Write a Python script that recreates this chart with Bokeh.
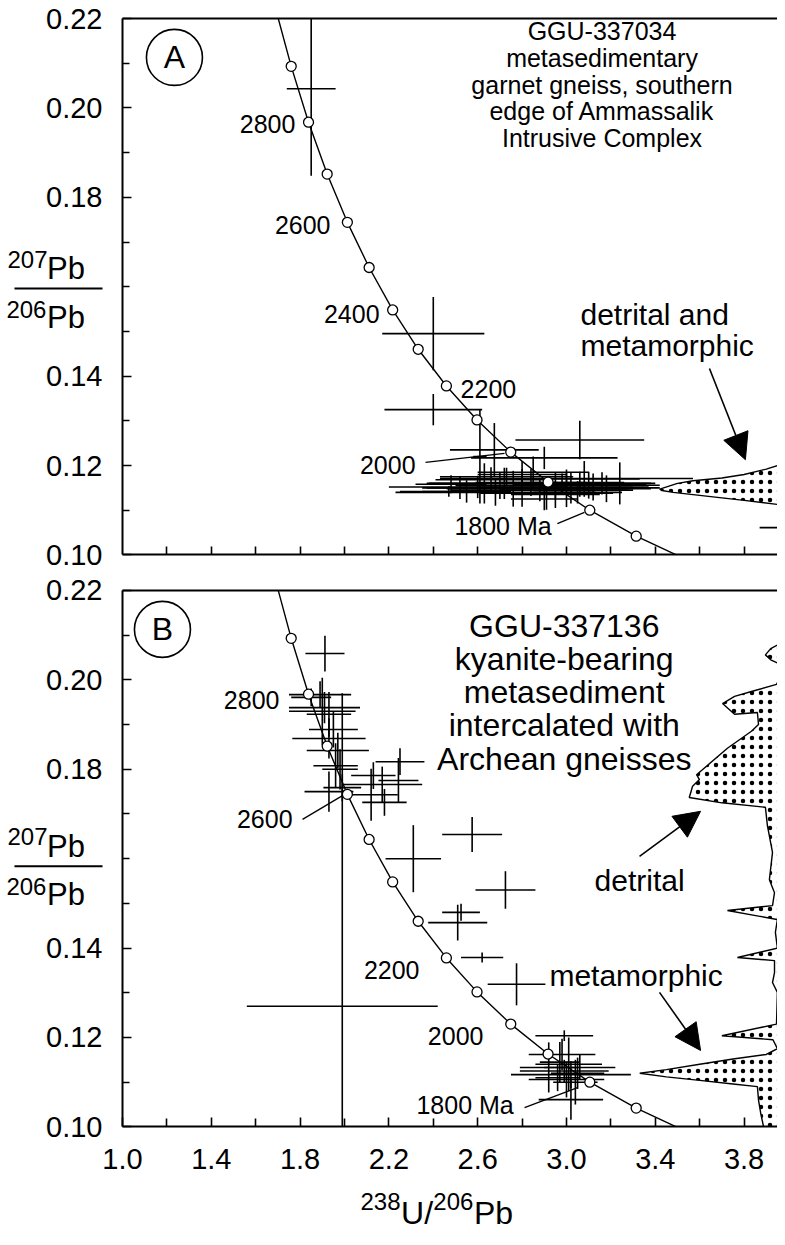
from bokeh.plotting import figure
from bokeh.models import (Label, Arrow, NormalHead, LinearAxis, FixedTicker,
                          NumeralTickFormatter, ColumnDataSource)
from bokeh.layouts import column
from bokeh.embed import file_html
from bokeh.resources import INLINE

FONT = "Liberation Sans"

# ---------------- data ----------------
x_ticks = [1.0, 1.4, 1.8, 2.2, 2.6, 3.0, 3.4, 3.8]
x_minor = [1.2, 1.6, 2.0, 2.4, 2.8, 3.2, 3.6]
y_ticks = [0.10, 0.12, 0.14, 0.18, 0.20, 0.22]
y_minor = [0.11, 0.13, 0.15, 0.16, 0.17, 0.19, 0.21]

# concordia reference points (Ma)
conc_age = [1600, 1700, 1800, 1900, 2000, 2100, 2200, 2300, 2400, 2500, 2600, 2700, 2800, 2900, 3000]
conc_x = [3.550, 3.314, 3.105, 2.917, 2.749, 2.597, 2.459, 2.332, 2.217, 2.111, 2.013, 1.922, 1.838, 1.760, 1.687]
conc_y = [0.0987, 0.1042, 0.1100, 0.1163, 0.1230, 0.1302, 0.1378, 0.1460, 0.1548, 0.1643, 0.1744, 0.1852, 0.1968, 0.2093, 0.2227]
marker_ages = [1700, 1800, 1900, 2000, 2100, 2200, 2300, 2400, 2500, 2600, 2700, 2800, 2900]

# Panel A: GGU-337034 analyses (238U/206Pb, 207Pb/206Pb, errors)
a_x = [1.85, 2.40, 2.40, 2.61, 3.06, 2.675, 2.90,
       2.60, 2.68, 2.72, 2.76, 2.80, 2.84, 2.88, 2.91, 2.95, 2.98, 3.02, 3.06, 3.10, 3.12,
       3.16, 3.24, 3.00, 2.55, 2.47, 2.52, 2.66, 2.73, 2.80, 2.85, 3.08, 2.95, 3.00, 2.63,
       2.70, 3.05, 3.18, 2.48, 2.90, 4.20]
a_y = [0.2043, 0.1495, 0.1325, 0.1220, 0.1257, 0.1235, 0.1217,
       0.1152, 0.1140, 0.1160, 0.1148, 0.1150, 0.1162, 0.1145, 0.1138, 0.1155, 0.1162, 0.1150, 0.1158, 0.1156, 0.1152,
       0.1160, 0.1160, 0.1171, 0.1142, 0.1142, 0.1150, 0.1168, 0.1175, 0.1180, 0.1185, 0.1170, 0.1135, 0.1145, 0.1160,
       0.1155, 0.1140, 0.1148, 0.1158, 0.1125, 0.1061]
a_xerr = [0.11, 0.23, 0.22, 0.03, 0.29, 0.20, 0.33,
          0.40, 0.45, 0.35, 0.30, 0.45, 0.25, 0.40, 0.30, 0.35, 0.28, 0.40, 0.30, 0.32, 0.25,
          0.22, 0.16, 0.57, 0.20, 0.22, 0.15, 0.25, 0.30, 0.20, 0.25, 0.25, 0.20, 0.30, 0.25,
          0.20, 0.20, 0.20, 0.16, 0.15, 0.33]
a_yerr = [0.0195, 0.0082, 0.0035, 0.0105, 0.0043, 0.0060, 0.0025,
          0.0025, 0.0030, 0.0035, 0.0040, 0.0042, 0.0030, 0.0025, 0.0037, 0.0030, 0.0020, 0.0035, 0.0028, 0.0030, 0.0030,
          0.0025, 0.0047, 0.0020, 0.0025, 0.0012, 0.0025, 0.0028, 0.0020, 0.0030, 0.0035, 0.0040, 0.0030, 0.0038, 0.0045,
          0.0030, 0.0025, 0.0030, 0.0020, 0.0025, 0.0020]

# Panel A probability density (detrital + metamorphic)
a_dens_x = [3.42, 3.50, 3.57, 3.70, 3.80, 3.90, 3.95, 4.05, 4.05, 3.95, 3.80, 3.57, 3.48, 3.43]
a_dens_y = [0.1147, 0.1160, 0.1166, 0.1172, 0.1180, 0.1192, 0.1200, 0.1212, 0.1108, 0.1113, 0.1122, 0.1135, 0.1140, 0.1144]

# Panel B: GGU-337136 analyses
b_x = [1.912, 1.90, 1.89, 1.85, 1.91, 1.93, 1.95, 1.93, 1.97, 1.96, 1.98, 1.99, 1.93, 1.99,
       2.13, 2.17, 2.12, 2.18, 2.243, 2.25,
       2.575, 2.31, 2.725, 2.525, 2.51, 2.62, 2.775,
       2.99, 2.98, 2.92, 3.01, 3.02, 3.02, 3.00, 2.99, 3.05, 2.96, 3.06, 2.97, 3.04]
b_y = [0.2059, 0.1930, 0.1967, 0.1961, 0.1938, 0.1923, 0.1889, 0.1869, 0.1842, 0.1808, 0.1800, 0.1759, 0.1750, 0.1270,
       0.1786, 0.1766, 0.1743, 0.1726, 0.1775, 0.1817,
       0.1654, 0.1600, 0.1530, 0.1480, 0.1457, 0.1379, 0.1319,
       0.1204, 0.1162, 0.1133, 0.1140, 0.1061, 0.1117, 0.1106, 0.1125, 0.1120, 0.1110, 0.1133, 0.1145, 0.1100]
b_xerr = [0.088, 0.15, 0.14, 0.09, 0.16, 0.10, 0.11, 0.165, 0.14, 0.10, 0.08, 0.085, 0.11, 0.43,
          0.10, 0.18, 0.12, 0.10, 0.09, 0.11,
          0.135, 0.125, 0.135, 0.085, 0.133, 0.095, 0.13,
          0.13, 0.15, 0.13, 0.15, 0.145, 0.27, 0.17, 0.20, 0.12, 0.10, 0.16, 0.09, 0.10]
b_yerr = [0.0040, 0.0075, 0.0030, 0.0020, 0.0035, 0.0050, 0.0040, 0.0045, 0.0040, 0.0050, 0.0045, 0.0030, 0.0045, 0.0700,
          0.0030, 0.0040, 0.0058, 0.0030, 0.0050, 0.0030,
          0.0039, 0.0075, 0.0042, 0.0019, 0.0040, 0.0011, 0.0047,
          0.0012, 0.0035, 0.0056, 0.0060, 0.0045, 0.0030, 0.0040, 0.0025, 0.0035, 0.0030, 0.0028, 0.0045, 0.0050]

# Panel B probability density (main outline and small upper lobe)
b_dens_x = [4.05, 3.968, 3.946, 3.833, 3.757, 3.703, 3.757, 3.860, 3.865, 3.833, 3.725, 3.586, 3.599, 3.568,
            3.553, 3.70, 3.896, 3.905, 3.928, 3.914, 3.937, 3.928, 3.725, 3.95, 3.941, 3.95, 3.77, 3.937,
            3.937, 3.928, 3.95, 3.946, 3.70, 3.93, 3.95, 3.90, 3.75, 3.60, 3.45, 3.33, 3.45, 3.60, 3.75,
            3.86, 3.865, 3.875, 3.89, 4.05]
b_dens_y = [0.2015, 0.2010, 0.1990, 0.1974, 0.1963, 0.1947, 0.1923, 0.1927, 0.1900, 0.1885, 0.1847, 0.1788, 0.1777, 0.1762,
            0.1737, 0.1725, 0.1715, 0.1674, 0.1614, 0.1553, 0.1524, 0.1495, 0.1484, 0.1464, 0.1435, 0.1400, 0.1379, 0.1372,
            0.1345, 0.1323, 0.1301, 0.1230, 0.1204, 0.1195, 0.1175, 0.1162, 0.1152, 0.1140, 0.1128, 0.1120, 0.1112, 0.1104, 0.1096,
            0.1090, 0.1060, 0.1030, 0.0995, 0.0995]
b_lobe_x = [3.896, 3.92, 3.95, 3.99, 4.02, 3.99, 3.95, 3.92]
b_lobe_y = [0.2056, 0.2070, 0.2078, 0.2078, 0.2060, 0.2040, 0.2038, 0.2045]

# ---------------- layout constants ----------------
X_LEFT, X_RIGHT = 0.4505, 3.9505      # frame spans the whole width; y axis sits at x = 1.0
Y_TOP, Y_AXIS = 0.22, 0.10
# frames extend a little past the axes so that tick labels / titles are not clipped
A_RANGE = (0.09629, 0.22403)
B_RANGE = (0.07615, 0.22425)


def text(p, x, y, s, size, align="left", baseline="middle"):
    p.add_layout(Label(x=x, y=y, text=s, text_font=FONT, text_font_size=size,
                       text_align=align, text_baseline=baseline, text_color="black"))


def style_axis(ax):
    ax.axis_line_width = 2
    ax.axis_line_color = "black"
    ax.major_tick_in = 9
    ax.major_tick_out = 0
    ax.minor_tick_in = 7
    ax.minor_tick_out = 0
    ax.major_tick_line_width = 1.6
    ax.minor_tick_line_width = 1.6
    ax.major_tick_line_color = "black"
    ax.minor_tick_line_color = "black"
    ax.major_label_text_font = FONT
    ax.major_label_text_color = "black"
    ax.major_label_text_font_size = "29px"
    ax.major_label_standoff = 22


def make_panel(cx, cy, cxe, cye, dens, letter, last):
    yr = B_RANGE if last else A_RANGE
    fh = 662 if last else 571
    p = figure(frame_width=777, frame_height=fh, x_range=(X_LEFT, X_RIGHT), y_range=yr,
               output_backend="svg", toolbar_location=None,
               min_border_left=0, min_border_right=0, min_border_top=0, min_border_bottom=0,
               x_axis_type=None, y_axis_type=None)
    p.outline_line_color = None
    p.background_fill_color = "white"
    p.border_fill_color = "white"

    yax = LinearAxis(ticker=FixedTicker(ticks=y_ticks, minor_ticks=y_minor),
                     formatter=NumeralTickFormatter(format="0.00"),
                     fixed_location=1.0, bounds=(Y_AXIS, Y_TOP))
    style_axis(yax)
    yax.major_label_standoff = 20
    p.add_layout(yax, "left")

    if last:
        xax = LinearAxis(ticker=FixedTicker(ticks=x_ticks, minor_ticks=x_minor),
                         formatter=NumeralTickFormatter(format="0.0"),
                         fixed_location=Y_AXIS, bounds=(1.0, X_RIGHT))
    else:
        xax = LinearAxis(ticker=FixedTicker(ticks=[], minor_ticks=x_ticks[1:] + x_minor),
                         fixed_location=Y_AXIS, bounds=(1.0, X_RIGHT))
    style_axis(xax)
    xax.minor_tick_in = 8
    p.add_layout(xax, "below")
    top = LinearAxis(ticker=FixedTicker(ticks=[]), fixed_location=Y_TOP, bounds=(1.0, X_RIGHT))
    style_axis(top)
    p.add_layout(top, "above")

    for dx, dy in dens:
        p.patch(dx, dy, fill_color="white", line_color="black", line_width=1.4,
                hatch_pattern="dot", hatch_color="black", hatch_scale=9, hatch_weight=1.8)

    src = ColumnDataSource(dict(
        x=cx, y=cy,
        x0=[a - e for a, e in zip(cx, cxe)], x1=[a + e for a, e in zip(cx, cxe)],
        y0=[a - e for a, e in zip(cy, cye)], y1=[a + e for a, e in zip(cy, cye)]))
    p.segment("x0", "y", "x1", "y", source=src, line_color="black", line_width=1.6)
    p.segment("x", "y0", "x", "y1", source=src, line_color="black", line_width=1.6)

    p.line(conc_x, conc_y, line_color="black", line_width=1.4)
    mx = [x for a, x in zip(conc_age, conc_x) if a in marker_ages]
    my = [y for a, y in zip(conc_age, conc_y) if a in marker_ages]
    p.scatter(mx, my, size=10, fill_color="white", line_color="black", line_width=1.3)

    # blank out whatever falls outside the axes box (above the top / below the bottom axis)
    p.quad(left=[X_LEFT, X_LEFT], right=[X_RIGHT, X_RIGHT],
           bottom=[yr[0], Y_TOP], top=[Y_AXIS, yr[1]],
           fill_color="white", line_color=None)

    # panel letter in a circle
    lx = 1.234 if letter == "A" else 1.18
    p.scatter([lx], [0.2113], size=56, fill_color=None, line_color="black", line_width=1.6)
    text(p, lx, 0.2113, letter, "32px", align="center")

    # y axis label: 207Pb / 206Pb
    bar_y = 0.1596 if letter == "A" else 0.1583
    text(p, 0.482, bar_y + 0.0066, "207", "24px")
    text(p, 0.660, bar_y + 0.0045, "Pb", "31px")
    text(p, 0.477, bar_y - 0.0046, "206", "24px")
    text(p, 0.660, bar_y - 0.0064, "Pb", "31px")
    p.add_layout(Arrow(end=None, x_start=0.5135, y_start=bar_y, x_end=0.910, y_end=bar_y,
                       line_color="black", line_width=2))
    return p


pA = make_panel(a_x, a_y, a_xerr, a_yerr, [(a_dens_x, a_dens_y)], "A", False)
pB = make_panel(b_x, b_y, b_xerr, b_yerr, [(b_dens_x, b_dens_y), (b_lobe_x, b_lobe_y)], "B", True)

# ---- Panel A annotations ----
for i, s in enumerate(["GGU-337034", "metasedimentary", "garnet gneiss, southern",
                       "edge of Ammassalik", "Intrusive Complex"]):
    text(pA, 3.16, 0.2172 - i * 0.0060, s, "25px", align="center")
text(pA, 3.063, 0.1537, "detrital and", "30px")
text(pA, 3.063, 0.1468, "metamorphic", "30px")
pA.add_layout(Arrow(end=NormalHead(size=26, fill_color="black", line_color="black"),
                    x_start=3.644, y_start=0.1417, x_end=3.806, y_end=0.1213,
                    line_color="black", line_width=1.6))
for s, x, y, al in [("2800", 1.779, 0.1963, "right"), ("2600", 1.937, 0.1739, "right"),
                    ("2400", 2.158, 0.1538, "right"), ("2200", 2.523, 0.1372, "left"),
                    ("2000", 2.320, 0.1202, "right"), ("1800 Ma", 2.495, 0.1064, "left")]:
    text(pA, x, y, s, "25px", align=al)
pA.segment([2.365, 2.959], [0.1207, 0.1070], [2.721, 3.081], [0.1227, 0.1095],
           line_color="black", line_width=1.3)

# ---- Panel B annotations ----
for i, s in enumerate(["GGU-337136", "kyanite-bearing", "metasediment",
                       "intercalated with", "Archean gneisses"]):
    text(pB, 2.99, 0.2120 - i * 0.0074, s, "32px", align="center")
text(pB, 3.532, 0.1551, "detrital", "30px", align="right")
text(pB, 2.923, 0.1339, "metamorphic", "30px")
pB.add_layout(Arrow(end=NormalHead(size=26, fill_color="black", line_color="black"),
                    x_start=3.329, y_start=0.1605, x_end=3.604, y_end=0.1706,
                    line_color="black", line_width=1.6))
pB.add_layout(Arrow(end=NormalHead(size=26, fill_color="black", line_color="black"),
                    x_start=3.419, y_start=0.1301, x_end=3.604, y_end=0.1171,
                    line_color="black", line_width=1.6))
for s, x, y, al in [("2800", 1.707, 0.1954, "right"), ("2600", 1.766, 0.1688, "right"),
                    ("2200", 2.338, 0.1352, "right"), ("2000", 2.626, 0.1204, "right"),
                    ("1800 Ma", 2.324, 0.1048, "left")]:
    text(pB, x, y, s, "25px", align=al)
pB.segment([1.811, 2.811], [0.1688, 0.1043], [1.991, 3.050], [0.1741, 0.1088],
           line_color="black", line_width=1.3)

# x axis title: 238U/206Pb
text(pB, 2.072, 0.0833, "238", "24px")
text(pB, 2.255, 0.0808, "U/", "32px")
text(pB, 2.400, 0.0833, "206", "24px")
text(pB, 2.583, 0.0808, "Pb", "32px")

layout = column(pA, pB)
open("out.html", "w").write(file_html(layout, INLINE))
